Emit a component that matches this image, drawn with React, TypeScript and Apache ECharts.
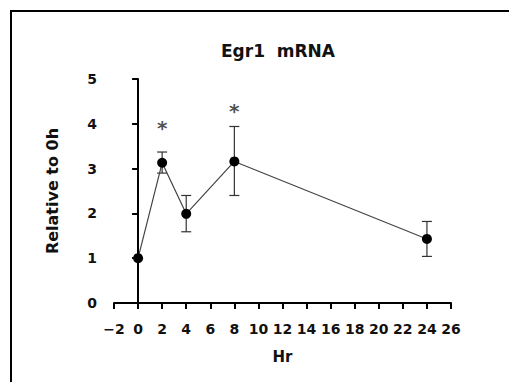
import React, { useEffect, useRef } from "react";
import * as echarts from "echarts";

const hours = [0, 2, 4, 8, 24];
const means = [1.0, 3.13, 1.99, 3.16, 1.43];
const errUpper = [1.0, 3.37, 2.4, 3.94, 1.82];
const errLower = [1.0, 2.9, 1.59, 2.4, 1.04];
const sigHours = [2, 8];
const sigLevels = [4.02, 4.4];
const xTicks = { min: -2, max: 26, interval: 2 };
const yTicks = { min: 0, max: 5, interval: 1 };

const WIDE = "'DejaVu Sans', sans-serif";

export default function App() {
  const ref = useRef<HTMLDivElement>(null);
  useEffect(() => {
    document.body.style.margin = "0";
    const chart = echarts.init(ref.current!, null, { renderer: "svg" });
    const errData = hours.map((h, i) => [h, errLower[i], errUpper[i]]);
    chart.setOption({
      animation: false,
      backgroundColor: "#fff",
      graphic: [
        {
          type: "rect",
          shape: { x: 11, y: 11, width: 520, height: 400 },
          style: { fill: "none", stroke: "#000", lineWidth: 2 },
          z: 100,
        },
        {
          type: "text",
          x: 278,
          y: 51,
          style: {
            text: "Egr1  mRNA",
            font: `bold 17px ${WIDE}`,
            fill: "#111",
            textAlign: "center",
            textVerticalAlign: "middle",
          },
        },
      ],
      grid: { left: 114, right: 58, top: 79, bottom: 79 },
      xAxis: {
        type: "value",
        min: xTicks.min,
        max: xTicks.max,
        interval: xTicks.interval,
        name: "Hr",
        nameLocation: "middle",
        nameGap: 46,
        nameTextStyle: { fontFamily: WIDE, fontWeight: "bold", fontSize: 15, color: "#111" },
        axisLine: { onZero: false, lineStyle: { color: "#000", width: 2 } },
        axisTick: { show: true, length: 6, lineStyle: { color: "#000", width: 2 } },
        axisLabel: {
          margin: 19,
          fontFamily: WIDE,
          fontWeight: "bold",
          fontSize: 14,
          color: "#111",
          formatter: (v: number) => (v < 0 ? "\u2212" + Math.abs(v) : String(v)),
        },
        splitLine: { show: false },
      },
      yAxis: {
        type: "value",
        min: yTicks.min,
        max: yTicks.max,
        interval: yTicks.interval,
        name: "Relative to 0h",
        nameLocation: "middle",
        nameGap: 54,
        nameTextStyle: { fontFamily: WIDE, fontWeight: "bold", fontSize: 16, color: "#111" },
        axisLine: { show: true, lineStyle: { color: "#000", width: 2 } },
        axisTick: { show: true, length: 6, lineStyle: { color: "#000", width: 2 } },
        axisLabel: { margin: 17, fontFamily: WIDE, fontWeight: "bold", fontSize: 14, color: "#111" },
        splitLine: { show: false },
      },
      series: [
        {
          type: "custom",
          data: errData,
          z: 3,
          renderItem: (params: any, api: any) => {
            const x = api.value(0);
            const lo = api.coord([x, api.value(1)]);
            const hi = api.coord([x, api.value(2)]);
            const w = 5;
            const st = { stroke: "#333", lineWidth: 1.2 };
            return {
              type: "group",
              children: [
                { type: "line", shape: { x1: lo[0], y1: lo[1], x2: hi[0], y2: hi[1] }, style: st },
                { type: "line", shape: { x1: hi[0] - w, y1: hi[1], x2: hi[0] + w, y2: hi[1] }, style: st },
                { type: "line", shape: { x1: lo[0] - w, y1: lo[1], x2: lo[0] + w, y2: lo[1] }, style: st },
              ],
            };
          },
        },
        {
          type: "line",
          data: hours.map((h, i) => [h, means[i]]),
          symbol: "circle",
          symbolSize: 10,
          z: 4,
          lineStyle: { color: "#444", width: 1.2 },
          itemStyle: { color: "#000" },
        },
        {
          type: "scatter",
          data: sigHours.map((h, i) => [h, sigLevels[i]]),
          symbolSize: 0,
          label: {
            show: true,
            position: "inside",
            formatter: "*",
            fontFamily: WIDE,
            fontSize: 20,
            fontWeight: "bold",
            color: "#222",
            offset: [0, 5],
          },
        },
      ],
    });
    return () => chart.dispose();
  }, []);
  return <div ref={ref} style={{ width: 509, height: 382 }} />;
}
